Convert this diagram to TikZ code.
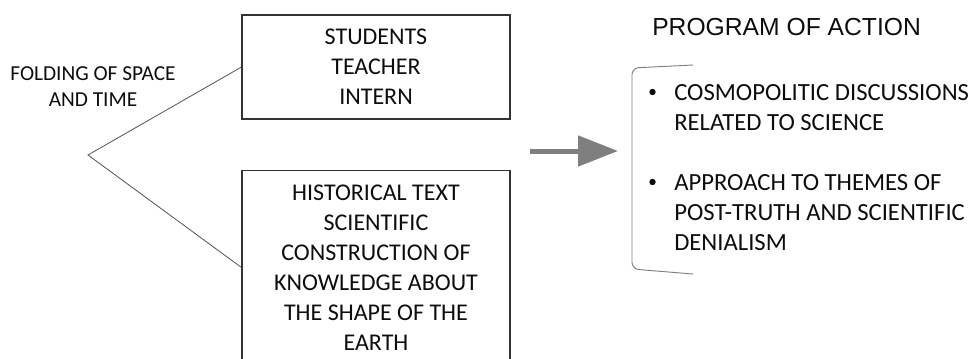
\documentclass[tikz,border=0pt]{standalone}
\usepackage{fontspec}
\setmainfont{Carlito}
\newfontfamily\headfont{Liberation Sans}
\usetikzlibrary{arrows.meta}
\definecolor{boxline}{HTML}{333333}
\definecolor{arrowgray}{HTML}{7F7F7F}
\definecolor{textblack}{HTML}{0D0D0D}

\begin{document}
\begin{tikzpicture}[x=0.75pt,y=-0.75pt,
  boxnode/.style={draw=boxline,line width=0.8pt,minimum width=201pt,inner sep=0pt,
    align=center,text=textblack,font=\fontsize{18}{22.5}\selectfont},
  labeltext/.style={align=center,inner sep=0pt,text=textblack,font=\fontsize{16}{19.5}\selectfont},
  headtext/.style={inner sep=0pt,text=textblack,font=\headfont\fontsize{18.5}{22}\selectfont},
  itemtext/.style={align=left,inner sep=0pt,text=textblack,font=\fontsize{18.5}{22.5}\selectfont},
  bulletdot/.style={circle,fill=textblack,inner sep=0pt,minimum size=4.8pt},
  foldline/.style={draw=boxline!85,line width=0.6pt},
  bigarrow/.style={arrowgray,line width=3.75pt,-{Triangle[length=30pt,width=22.5pt]}},
  bracketline/.style={draw=arrowgray,line width=0.7pt,rounded corners=5pt}]
\useasboundingbox (0,0) rectangle (980,358);
\clip (0,0) rectangle (980,358);
\node[boxnode,minimum height=78pt] (agents) at (376,67) {STUDENTS\\TEACHER\\INTERN};
\node[boxnode,minimum height=146pt] (sources) at (376,267.5)
  {HISTORICAL TEXT\\SCIENTIFIC\\CONSTRUCTION OF\\KNOWLEDGE ABOUT\\THE SHAPE OF THE\\EARTH};
\node[labeltext] (folding) at (93,87) {FOLDING OF SPACE\\AND TIME};
\coordinate (apex) at (88,155);
\draw[foldline] (agents.west) -- (apex) -- (sources.west);
\coordinate (arrowtail) at (530,151);
\coordinate (arrowtip) at (618,151);
\draw[bigarrow] (arrowtail) -- (arrowtip);
\node[headtext,anchor=west] (program) at (652,27) {PROGRAM OF ACTION};
\draw[bracketline] (693,65) -- (632,68) -- (632,269) -- (693,274);
\node[bulletdot] (dot1) at (652.5,92) {};
\node[itemtext,anchor=west] (item1) at (674,108) {COSMOPOLITIC DISCUSSIONS\\RELATED TO SCIENCE};
\node[bulletdot] (dot2) at (652.5,182) {};
\node[itemtext,anchor=west] (item2) at (674,213) {APPROACH TO THEMES OF\\POST-TRUTH AND SCIENTIFIC\\DENIALISM};
\end{tikzpicture}
\end{document}
